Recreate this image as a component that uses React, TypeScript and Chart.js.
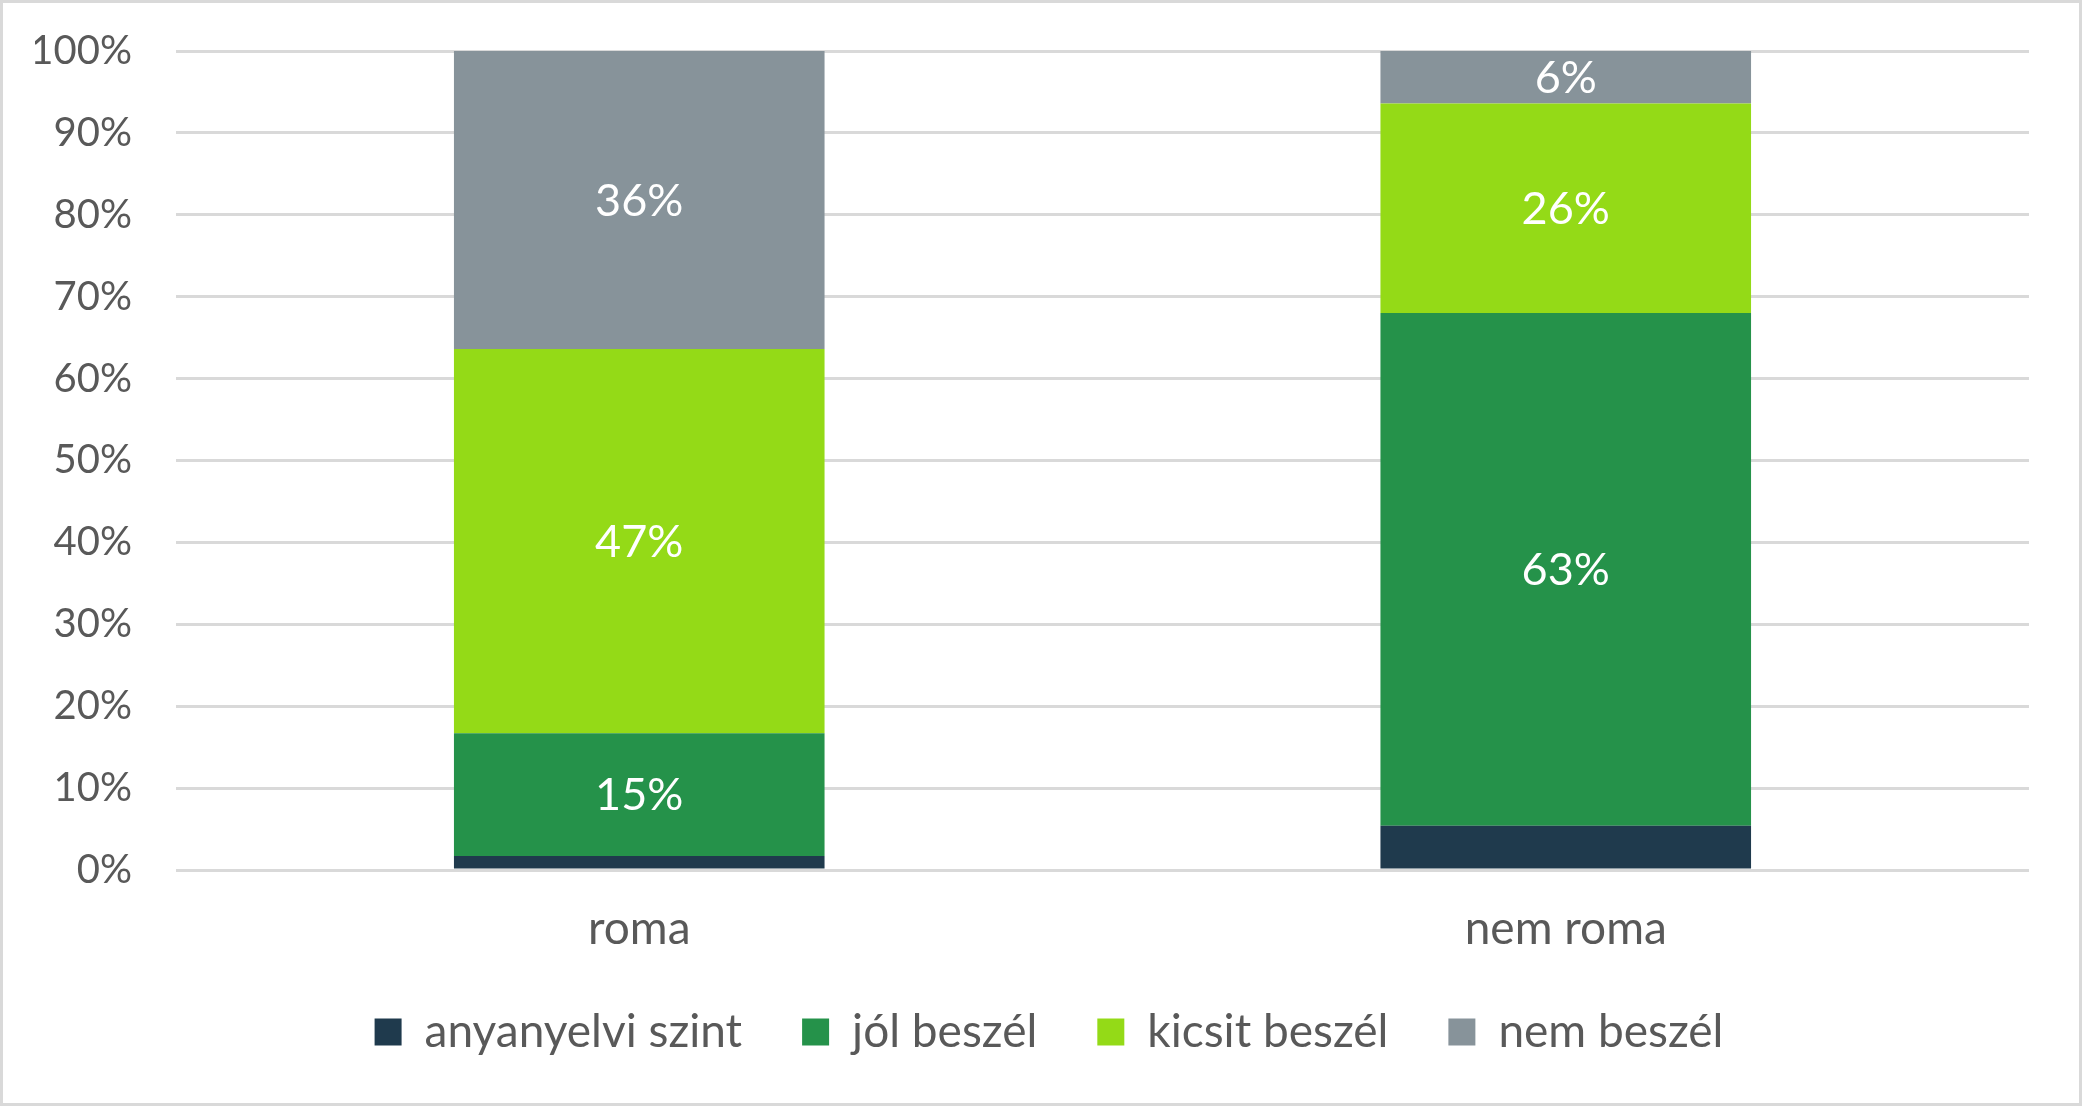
import { useEffect, useRef } from "react"
import { Chart, registerables, Plugin } from "chart.js"

Chart.register(...registerables)

const categories = ["roma", "nem roma"]
const seriesNames = ["anyanyelvi szint", "jól beszél", "kicsit beszél", "nem beszél"]
const anyanyelvi = [1.7, 5.4]
const jolBeszel = [15.0, 62.6]
const kicsitBeszel = [46.9, 25.6]
const nemBeszel = [36.4, 6.4]
const seriesColors = ["#1f3a4d", "#25924a", "#94da17", "#87939a"]
const showValueLabels = [false, true, true, true]
const yTicks = [0, 10, 20, 30, 40, 50, 60, 70, 80, 90, 100]

const FONT = "Lato, 'Noto Sans', sans-serif"
const TEXT = "#595959"
const GRID = "#d9d9d9"

// white value labels in the middle of each segment
const valueLabels: Plugin<"bar"> = {
  id: "valueLabels",
  afterDatasetsDraw(chart) {
    const { ctx } = chart
    ctx.save()
    ctx.fillStyle = "#ffffff"
    ctx.font = `45px ${FONT}`
    ctx.textAlign = "center"
    ctx.textBaseline = "middle"
    chart.data.datasets.forEach((ds, i) => {
      if (!showValueLabels[i]) return
      const meta = chart.getDatasetMeta(i)
      meta.data.forEach((bar, j) => {
        const { x, y, base } = bar.getProps(["x", "y", "base"], true) as any
        const v = ds.data[j] as number
        ctx.fillText(`${Math.round(v)}%`, x, (y + base) / 2 + 1)
      })
    })
    ctx.restore()
  },
}

// the legend is centred on the whole chart box, not on the padded area
const legendShift: Plugin<"bar"> = {
  id: "legendShift",
  afterLayout(chart) {
    const lg: any = chart.legend
    if (!lg) return
    lg.left += 17
    lg.right += 17
  },
}

export default function App() {
  const chartRef = useRef<HTMLCanvasElement>(null)
  const chartInstance = useRef<Chart | null>(null)

  useEffect(() => {
    document.body.style.margin = "0"
    if (!chartRef.current) return
    if (chartInstance.current) chartInstance.current.destroy()
    const ctx = chartRef.current.getContext("2d")
    if (!ctx) return

    const values = [anyanyelvi, jolBeszel, kicsitBeszel, nemBeszel]

    chartInstance.current = new Chart(ctx, {
      type: "bar",
      data: {
        labels: categories,
        datasets: seriesNames.map((name, i) => ({
          label: name,
          data: values[i],
          backgroundColor: seriesColors[i],
          borderWidth: 0,
          barPercentage: 0.4,
          categoryPercentage: 1,
        })),
      },
      options: {
        animation: false,
        responsive: true,
        maintainAspectRatio: false,
        layout: { padding: { top: 48, right: 50, left: 32, bottom: 38 } },
        plugins: {
          legend: {
            position: "bottom",
            labels: {
              boxWidth: 27,
              boxHeight: 27,
              padding: 60,
              color: TEXT,
              font: { family: FONT, size: 46 },
            },
          },
          tooltip: { enabled: false },
        },
        scales: {
          x: {
            stacked: true,
            grid: { display: false },
            border: { display: false },
            ticks: { color: TEXT, font: { family: FONT, size: 46 }, padding: 24 },
            afterFit: (axis) => {
              axis.height = 79
            },
          },
          y: {
            stacked: true,
            min: 0,
            max: 100,
            afterBuildTicks: (axis) => {
              axis.ticks = yTicks.map((v) => ({ value: v }))
            },
            afterFit: (axis: any) => {
              axis.width = 141
              axis.paddingTop = 0
              axis.paddingBottom = 0
            },
            grid: { color: GRID, lineWidth: 3, drawTicks: false },
            border: { display: false },
            ticks: {
              color: TEXT,
              font: { family: FONT, size: 40 },
              padding: 44,
              callback: (v) => `${v}%`,
            },
          },
        },
      },
      plugins: [valueLabels, legendShift],
    })

    return () => {
      if (chartInstance.current) {
        chartInstance.current.destroy()
        chartInstance.current = null
      }
    }
  }, [])

  return (
    <div
      style={{
        position: "absolute",
        left: 0,
        top: 0,
        width: 2082,
        height: 1106,
        boxSizing: "border-box",
        border: "3px solid #d9d9d9",
        background: "#ffffff",
      }}
    >
      <canvas ref={chartRef} />
    </div>
  )
}
